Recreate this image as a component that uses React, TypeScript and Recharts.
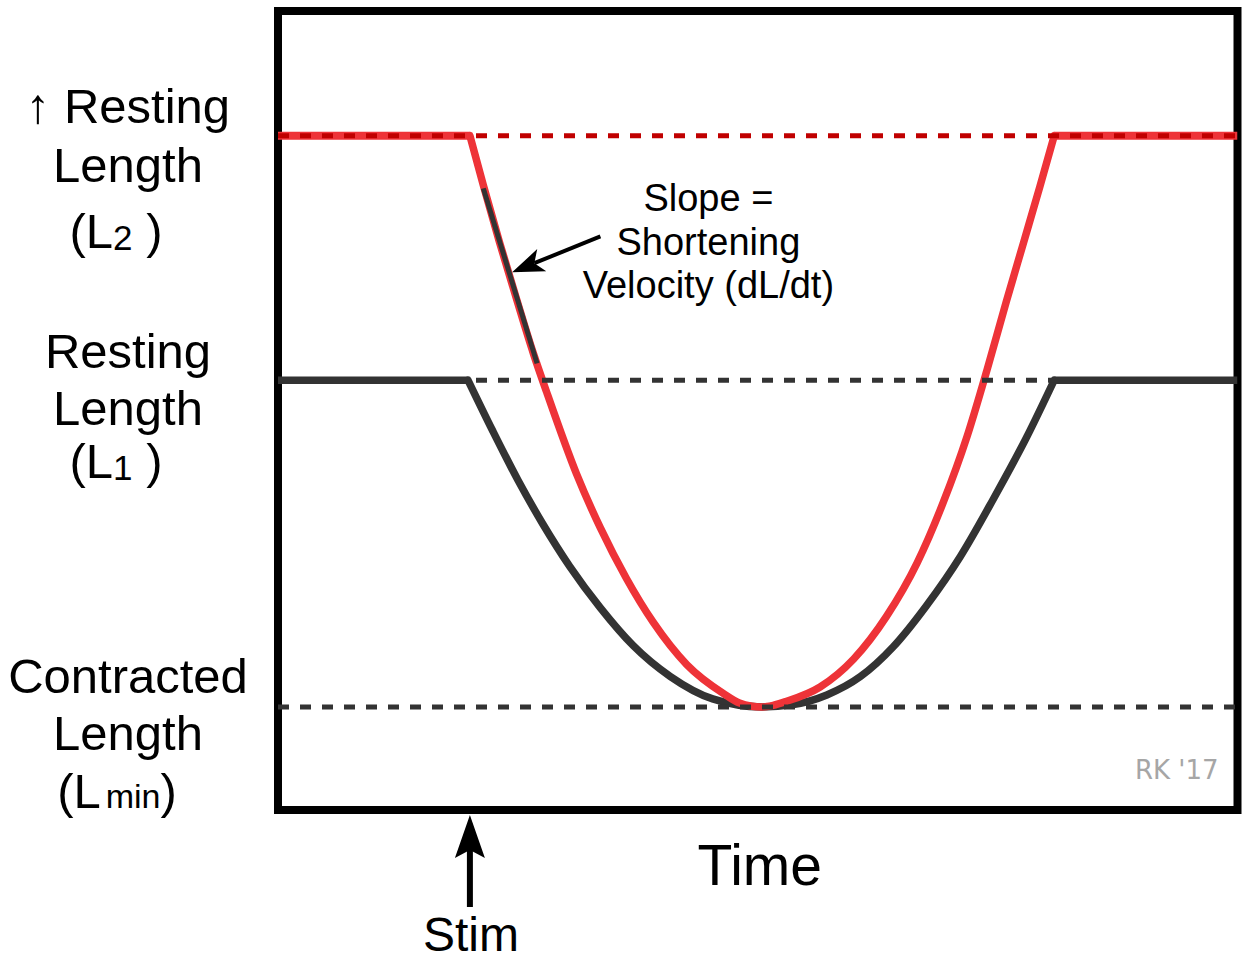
import React from "react";
import {
  LineChart,
  Line,
  XAxis,
  YAxis,
  ReferenceLine,
  ReferenceArea,
} from "recharts";

const FONT = "'Liberation Sans', Arial, Helvetica, sans-serif";
const RED = "#ee3338";
const DARK_RED = "#c00000";
const GRAY = "#333333";

// length levels (0-100 scale)
const restL2 = 84.4;
const restL1 = 53.8;
const minL = 12.9;
const lengthTicks = [restL2, restL1, minL];

// time marks
const stimTime = 20;
const timeLabelAt = 50;
const timeTicks = [stimTime, timeLabelAt];

// flat parts of the traces (null = gap during contraction)
const redFlat = [
  { t: 0, v: 84.4 },
  { t: 20, v: 84.4 },
  { t: 50, v: null },
  { t: 80.9, v: 84.4 },
  { t: 100, v: 84.4 },
];
const blackFlat = [
  { t: 0, v: 53.8 },
  { t: 19.8, v: 53.8 },
  { t: 50, v: null },
  { t: 80.9, v: 53.8 },
  { t: 100, v: 53.8 },
];

// contraction curves
const redCurve = [
  { t: 20.0, v: 84.4 },
  { t: 21.4, v: 78.2 },
  { t: 23.1, v: 71.0 },
  { t: 24.9, v: 63.8 },
  { t: 26.6, v: 57.2 },
  { t: 28.0, v: 52.3 },
  { t: 31.1, v: 42.1 },
  { t: 33.6, v: 35.3 },
  { t: 36.3, v: 29.0 },
  { t: 39.1, v: 23.5 },
  { t: 42.6, v: 18.2 },
  { t: 46.4, v: 14.6 },
  { t: 48.1, v: 13.4 },
  { t: 50.4, v: 12.9 },
  { t: 51.6, v: 13.1 },
  { t: 53.0, v: 13.6 },
  { t: 56.5, v: 15.4 },
  { t: 60.0, v: 18.9 },
  { t: 63.4, v: 24.2 },
  { t: 66.6, v: 30.9 },
  { t: 69.3, v: 38.4 },
  { t: 71.8, v: 46.7 },
  { t: 73.9, v: 55.1 },
  { t: 75.9, v: 63.6 },
  { t: 77.7, v: 71.0 },
  { t: 79.4, v: 78.0 },
  { t: 80.9, v: 84.4 },
];
const blackCurve = [
  { t: 19.8, v: 53.8 },
  { t: 22.4, v: 47.4 },
  { t: 25.0, v: 41.3 },
  { t: 27.6, v: 35.8 },
  { t: 30.4, v: 30.5 },
  { t: 33.6, v: 25.3 },
  { t: 37.0, v: 20.6 },
  { t: 40.9, v: 16.7 },
  { t: 45.3, v: 13.9 },
  { t: 50.4, v: 12.9 },
  { t: 53.7, v: 13.2 },
  { t: 57.2, v: 14.4 },
  { t: 60.7, v: 16.7 },
  { t: 64.1, v: 20.4 },
  { t: 67.6, v: 25.6 },
  { t: 71.1, v: 31.7 },
  { t: 74.5, v: 38.8 },
  { t: 78.0, v: 46.6 },
  { t: 80.9, v: 53.8 },
];

// tangent on the red curve and the annotation arrow (tail -> tip)
const tangent = [
  { x: 21.4, y: 77.8 },
  { x: 27.0, y: 55.9 },
];
const slopeArrow = [
  { x: 33.6, y: 71.8 },
  { x: 24.4, y: 67.3 },
];
const slopeText = ["Slope =", "Shortening", "Velocity (dL/dt)"];

const txt = { fontFamily: FONT, fill: "#000" };

const YTick = (props: any) => {
  const { y, payload } = props;
  const v = payload.value;
  const cx = 128;
  const fs = 49;
  if (v === restL2) {
    return (
      <g>
        <text x={cx} y={y - 13} textAnchor="middle" fontSize={fs} {...txt}>↑ Resting</text>
        <text x={cx} y={y + 46} textAnchor="middle" fontSize={fs} {...txt}>Length</text>
        <text x={116} y={y + 112} textAnchor="middle" fontSize={fs} {...txt}>
          (L<tspan fontSize={35} dy={2}>2</tspan>
          <tspan dy={-2}> )</tspan>
        </text>
      </g>
    );
  }
  if (v === restL1) {
    return (
      <g>
        <text x={cx} y={y - 12} textAnchor="middle" fontSize={fs} {...txt}>Resting</text>
        <text x={cx} y={y + 45} textAnchor="middle" fontSize={fs} {...txt}>Length</text>
        <text x={116} y={y + 98} textAnchor="middle" fontSize={fs} {...txt}>
          (L<tspan fontSize={35} dy={2}>1</tspan>
          <tspan dy={-2}> )</tspan>
        </text>
      </g>
    );
  }
  return (
    <g>
      <text x={cx} y={y - 14} textAnchor="middle" fontSize={fs} {...txt}>Contracted</text>
      <text x={cx} y={y + 43} textAnchor="middle" fontSize={fs} {...txt}>Length</text>
      <text x={117} y={y + 101} textAnchor="middle" fontSize={fs} {...txt}>
        (L<tspan fontSize={34} dx={5}>min</tspan>
        <tspan>)</tspan>
      </text>
    </g>
  );
};

const XTick = (props: any) => {
  const { x, y, payload } = props;
  if (payload.value === stimTime) {
    return (
      <g>
        <line x1={x} y1={y + 38} x2={x} y2={y + 97} stroke="#000" strokeWidth={6} />
        <polygon
          points={`${x},${y + 5} ${x - 15},${y + 48} ${x},${y + 40} ${x + 15},${y + 48}`}
          fill="#000"
        />
        <text x={x + 1} y={y + 141} textAnchor="middle" fontSize={48} {...txt}>Stim</text>
      </g>
    );
  }
  return (
    <text x={x + 2} y={y + 75} textAnchor="middle" fontSize={57} {...txt}>Time</text>
  );
};

const SlopeArrow = (p: any) => {
  const { x1, y1, x2, y2 } = p;
  const dx = x2 - x1;
  const dy = y2 - y1;
  const len = Math.hypot(dx, dy);
  const ux = dx / len;
  const uy = dy / len;
  const nx = -uy;
  const ny = ux;
  const bx = x2 - ux * 32;
  const by = y2 - uy * 32;
  const mx = x2 - ux * 24;
  const my = y2 - uy * 24;
  return (
    <g>
      <line x1={x1} y1={y1} x2={mx} y2={my} stroke="#000" strokeWidth={4} />
      <polygon
        points={`${x2},${y2} ${bx + nx * 12},${by + ny * 12} ${mx},${my} ${bx - nx * 12},${by - ny * 12}`}
        fill="#000"
      />
      {slopeText.map((s, i) => (
        <text key={s} x={x1 + 108} y={y1 - 25 + i * 43.5} textAnchor="middle" fontSize={38} {...txt}>
          {s}
        </text>
      ))}
    </g>
  );
};

const Frame = (p: any) => (
  <g>
    <rect x={p.x} y={p.y} width={p.width} height={p.height} fill="none" stroke="#000" strokeWidth={8} />
    <text
      x={p.x + p.width - 19}
      y={p.y + p.height - 31}
      textAnchor="end"
      fontSize={26}
      fill="#a6a6a6"
      fontFamily="'Comic Sans MS', 'DejaVu Sans', sans-serif"
    >
      RK '17
    </text>
  </g>
);

export default function App() {
  return (
    <div style={{ position: "absolute", left: 0, top: 0, width: 1250, height: 962 }}>
      <LineChart width={1250} height={962} margin={{ top: 11, right: 12.5, bottom: 0, left: 8 }}>
        <XAxis
          dataKey="t"
          type="number"
          domain={[0, 100]}
          ticks={timeTicks}
          interval={0}
          height={152}
          axisLine={false}
          tickLine={false}
          tickSize={0}
          tickMargin={0}
          tick={<XTick />}
          allowDataOverflow
        />
        <YAxis
          type="number"
          domain={[0, 100]}
          ticks={lengthTicks}
          interval={0}
          width={270}
          axisLine={false}
          tickLine={false}
          tickSize={0}
          tickMargin={0}
          tick={<YTick />}
          allowDataOverflow
        />
        <Line data={redFlat} dataKey="v" type="linear" stroke={RED} strokeWidth={8} dot={false} activeDot={false} isAnimationActive={false} />
        <Line data={blackFlat} dataKey="v" type="linear" stroke={GRAY} strokeWidth={7.5} dot={false} activeDot={false} isAnimationActive={false} />
        <Line data={blackCurve} dataKey="v" type="monotone" stroke={GRAY} strokeWidth={7.5} strokeLinecap="round" dot={false} activeDot={false} isAnimationActive={false} />
        <Line data={redCurve} dataKey="v" type="monotone" stroke={RED} strokeWidth={7.5} strokeLinecap="round" dot={false} activeDot={false} isAnimationActive={false} />
        <ReferenceLine segment={tangent} stroke={GRAY} strokeWidth={5} />
        <ReferenceLine y={restL2} stroke={DARK_RED} strokeWidth={5} strokeDasharray="11 11" />
        <ReferenceLine y={restL1} stroke={GRAY} strokeWidth={5} strokeDasharray="11 11" />
        <ReferenceLine y={minL} stroke={GRAY} strokeWidth={5} strokeDasharray="11 11" />
        <ReferenceLine segment={slopeArrow} shape={<SlopeArrow />} />
        <ReferenceArea x1={0} x2={100} y1={0} y2={100} shape={<Frame />} />
      </LineChart>
    </div>
  );
}
